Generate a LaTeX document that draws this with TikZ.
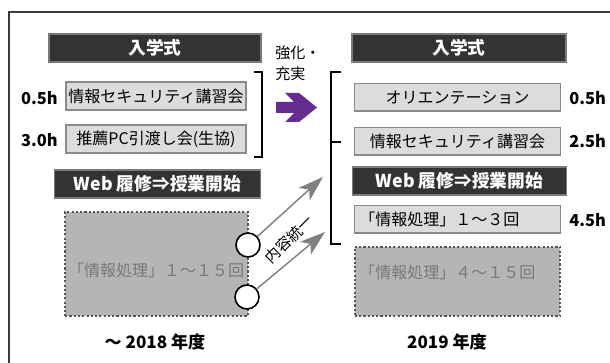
\documentclass[tikz,border=0pt]{standalone}
\usepackage{fontspec}
\setmainfont{Noto Sans CJK JP}
\usetikzlibrary{arrows.meta}
\definecolor{darkbox}{HTML}{333333}
\definecolor{darkedge}{HTML}{7A7A7A}
\definecolor{lightbox}{HTML}{DCDCDC}
\definecolor{lightedge}{HTML}{8A8A8A}
\definecolor{dashfill}{HTML}{B5B5B5}
\definecolor{dashedge}{HTML}{555555}
\definecolor{dashtext}{HTML}{787878}
\definecolor{arrowgray}{HTML}{808080}
\definecolor{purplearrow}{HTML}{662D91}
\definecolor{framecol}{HTML}{3A3A3A}
\tikzset{
  darkhead/.style={draw=darkedge, line width=0.8pt, fill=darkbox, text=white,
    font=\fontsize{13.3pt}{15pt}\selectfont\bfseries, inner sep=0pt, anchor=center},
  lightitem/.style={draw=lightedge, line width=0.8pt, fill=lightbox, text=black,
    font=\fontsize{12pt}{14pt}\selectfont, inner sep=0pt, anchor=center},
  dashitem/.style={draw=dashedge, line width=1.1pt, dash pattern=on 1.6pt off 1.6pt,
    fill=dashfill, inner sep=0pt, anchor=center},
  dashlabel/.style={text=dashtext, font=\fontsize{12pt}{14pt}\selectfont, inner sep=0pt},
  hourlabel/.style={font=\fontsize{12.3pt}{14pt}\selectfont\bfseries, inner sep=0pt},
  yearlabel/.style={font=\fontsize{12.8pt}{15pt}\selectfont\bfseries, inner sep=0pt},
  plainlabel/.style={font=\fontsize{11.3pt}{15.75pt}\selectfont, inner sep=0pt},
  ring/.style={circle, draw=black, line width=1.2pt, fill=white, minimum size=18pt, inner sep=0pt},
  grayarrow/.style={draw=arrowgray, line width=1.1pt,
    -{Stealth[length=19pt, width=12.5pt, inset=5pt, fill=arrowgray]}},
  bracketline/.style={draw=black, line width=1.5pt}
}
\begin{document}
\begin{tikzpicture}[x=0.75pt, y=-0.75pt]
\useasboundingbox (0,0) rectangle (610,363);
% outer frame (only top and left edges are visible)
\draw[framecol, line width=1.4pt] (9,380) -- (9,12) -- (630,12);

% ---------- left column ----------
\node[darkhead, minimum width=159pt, minimum height=21pt] (nyuL) at (155,48) {入学式};
\node[lightitem, minimum width=135pt, minimum height=21pt] (secL) at (156,96) {情報セキュリティ講習会};
\node[lightitem, minimum width=135pt, minimum height=21pt] (pcL) at (156,139) {推薦PC引渡し会(生協)};
\node[hourlabel, anchor=east] (hsecL) at (58,98) {0.5h};
\node[hourlabel, anchor=east] (hpcL) at (58,140) {3.0h};
\node[darkhead, minimum width=154pt, minimum height=21pt] (webL) at (157.5,184) {Web 履修⇒授業開始};
\node[dashitem, minimum width=137pt, minimum height=78pt] (infoL) at (156.5,264) {};
\node[dashlabel] (infoLtext) at (156,270) {「情報処理」１～１５回};
\node[yearlabel] (yearL) at (155,342) {～ 2018 年度};

% left bracket
\draw[bracketline] (254,72) -- (262,72) -- (262,157) -- (254,157);

% middle: enhancement label and purple arrow
\node[plainlabel, anchor=north west, align=left] (enh) at (275,46) {強化・\\充実};
\fill[purplearrow] (276,102) -- (294,102) -- (285,93) -- (299,93) -- (317,107.5)
  -- (299,122) -- (285,122) -- (294,113) -- (276,113) -- cycle;

% circles and gray arrows
\node[ring] (c1) at (248,245) {};
\node[ring] (c2) at (247,297) {};
\coordinate (t1) at (323,177);
\coordinate (t2) at (325,232);
\draw[grayarrow] (c1) -- (t1);
\draw[grayarrow] (c2) -- (t2);
\node[plainlabel, rotate=45] (unify) at (289,239) {内容統一};

% ---------- right column ----------
\node[darkhead, minimum width=160.5pt, minimum height=21pt] (nyuR) at (459,48) {入学式};
\draw[bracketline] (341,72) -- (331,72) -- (331,244) -- (341,244);
\draw[bracketline] (331,142) -- (341,142);
\node[lightitem, minimum width=154pt, minimum height=20.3pt] (oriR) at (457.5,97.5) {オリエンテーション};
\node[lightitem, minimum width=154pt, minimum height=20.3pt] (secR) at (457.5,141.5) {情報セキュリティ講習会};
\node[darkhead, minimum width=161pt, minimum height=21pt] (webR) at (459.5,181) {Web 履修⇒授業開始};
\node[lightitem, minimum width=154pt, minimum height=20.3pt] (infoR1) at (457.5,219.5) {};
\node[font=\fontsize{12pt}{14pt}\selectfont, inner sep=0pt, anchor=west] (infoR1text) at (359,219.5) {「情報処理」１～３回};
\node[dashitem, minimum width=154pt, minimum height=52pt] (infoR2) at (457.5,281.5) {};
\node[dashlabel, anchor=west] (infoR2text) at (359,272) {「情報処理」４～１５回};
\node[hourlabel, anchor=west] (hori) at (569,98) {0.5h};
\node[hourlabel, anchor=west] (hsec) at (569,141) {2.5h};
\node[hourlabel, anchor=west] (hinfo) at (569,220) {4.5h};
\node[yearlabel] (yearR) at (447,342) {2019 年度};
\end{tikzpicture}
\end{document}
